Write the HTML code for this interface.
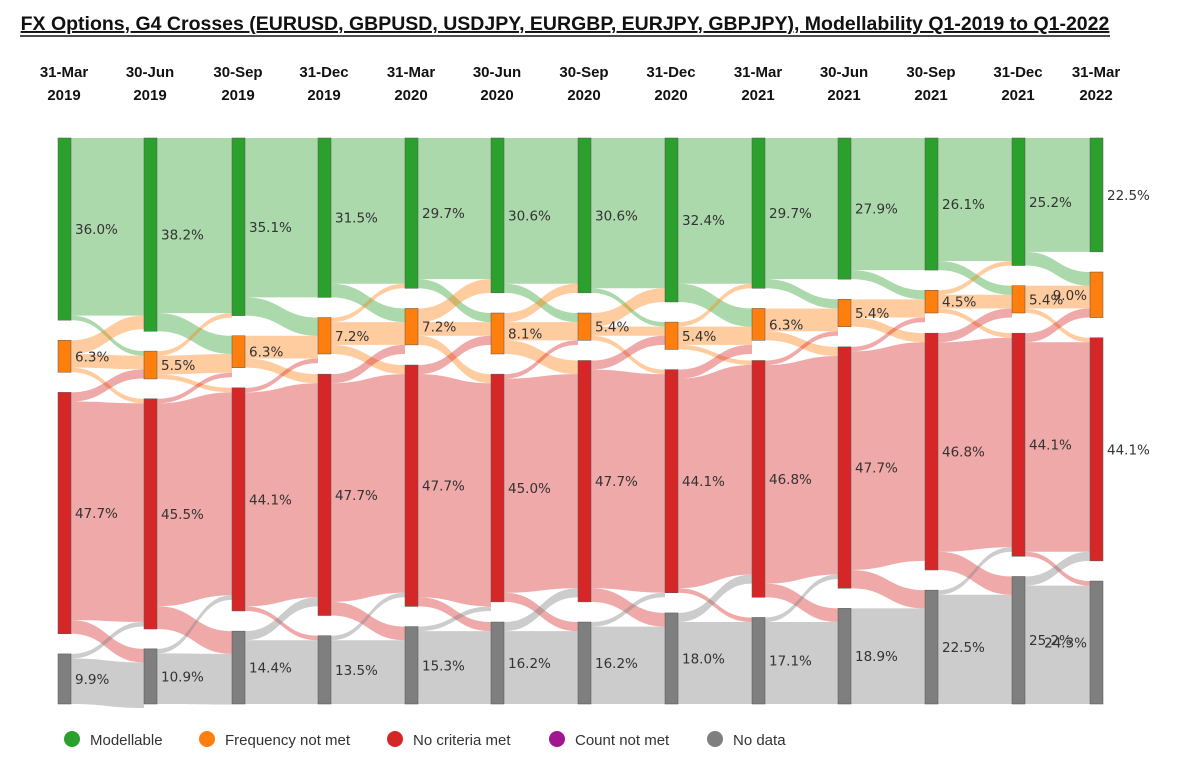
<!DOCTYPE html>
<html><head><meta charset="utf-8"><style>
body{margin:0;background:#fff;font-family:"Liberation Sans",sans-serif}
#wrap{position:relative;width:1189px;height:771px;overflow:hidden}
</style></head><body>
<div id="wrap">
<svg id="svg" width="1189" height="771">
<text x="565" y="30" text-anchor="middle" font-size="19.5" font-weight="bold" text-decoration="underline" fill="#111">FX Options, G4 Crosses (EURUSD, GBPUSD, USDJPY, EURGBP, EURJPY, GBPJPY), Modellability Q1-2019 to Q1-2022</text>
<line x1="20" y1="36" x2="1110" y2="36" stroke="#111" stroke-width="1.5"/>
<g id="links"></g><g id="nodes"></g><g id="labels"></g><g id="heads"></g>
<g id="legend"></g>
</svg></div>
<script>
const dates=[["31-Mar","2019"],["30-Jun","2019"],["30-Sep","2019"],["31-Dec","2019"],["31-Mar","2020"],["30-Jun","2020"],["30-Sep","2020"],["31-Dec","2020"],["31-Mar","2021"],["30-Jun","2021"],["30-Sep","2021"],["31-Dec","2021"],["31-Mar","2022"]];
const modellable=[36.0,38.2,35.1,31.5,29.7,30.6,30.6,32.4,29.7,27.9,26.1,25.2,22.5];
const freqNotMet=[6.3,5.5,6.3,7.2,7.2,8.1,5.4,5.4,6.3,5.4,4.5,5.4,9.0];
const noCriteria=[47.7,45.5,44.1,47.7,47.7,45.0,47.7,44.1,46.8,47.7,46.8,44.1,44.1];
const noData=[9.9,10.9,14.4,13.5,15.3,16.2,16.2,18.0,17.1,18.9,22.5,25.2,24.3];
// off-diagonal transitions per period: [from,to,value] (0=M,1=F,2=N,3=D)
const transitions=[
 [[0,1,0.9],[1,0,2.7],[1,2,0.9],[2,1,1.8],[2,3,2.7],[3,2,0.9]],
 [[0,1,3.6],[1,0,0.9],[1,2,0.9],[2,1,0.9],[2,3,4.5],[3,2,0.9]],
 [[0,1,3.6],[1,2,1.8],[2,1,0.9],[2,3,0.9],[3,2,1.8]],
 [[0,1,2.7],[1,0,0.9],[1,2,1.8],[2,1,1.8],[2,3,2.7],[3,2,0.9]],
 [[0,1,1.8],[1,0,2.7],[1,2,1.8],[2,1,1.8],[2,3,1.8],[3,2,0.9]],
 [[0,1,1.8],[1,0,1.8],[1,2,2.7],[2,1,0.9],[2,3,1.8],[3,2,1.8]],
 [[0,1,0.9],[1,0,2.7],[1,2,0.9],[2,1,1.8],[2,3,2.7],[3,2,0.9]],
 [[0,1,3.6],[1,0,0.9],[1,2,0.9],[2,1,1.8],[2,3,0.9],[3,2,1.8]],
 [[0,1,1.8],[1,2,1.8],[2,1,0.9],[2,3,2.7],[3,2,0.9]],
 [[0,1,1.8],[1,2,1.8],[2,1,0.9],[2,3,3.6]],
 [[0,1,1.8],[1,0,0.9],[1,2,0.9],[2,1,1.8],[2,3,3.6],[3,2,0.9]],
 [[0,1,2.7],[1,2,0.9],[2,1,1.8],[2,3,0.9],[3,2,1.8]]
];
const names=["Modellable","Frequency not met","No criteria met","Count not met","No data"];
const nodeCol=["#2ca02c","#ff7f0e","#d62728","#7f7f7f"];
const linkCol=["rgba(44,160,44,0.4)","rgba(255,127,14,0.4)","rgba(214,39,40,0.4)","rgba(127,127,127,0.4)"];
const legCol=["#2ca02c","#ff7f0e","#d62728","#a0178f","#7f7f7f"];
const NS="http://www.w3.org/2000/svg";
function mk(t,a,p){const e=document.createElementNS(NS,t);for(const k in a)e.setAttribute(k,a[k]);p.appendChild(e);return e;}
const xs=[58,144,232,318,405,491,578,665,752,838,925,1012,1090],NW=13,TOP=138,BOT=704;
const series=[modellable,freqNotMet,noCriteria,noData];
const pos=[];
for(let c=0;c<13;c++){
 const vals=series.map(s=>s[c]);const tot=vals.reduce((a,b)=>a+b,0);
 const sc=5.06;const gap=(BOT-TOP-tot*sc)/3;
 let y=TOP;const col=[];
 vals.forEach(v=>{col.push([y,y+v*sc]);y+=v*sc+gap;});
 pos.push(col);
}
const links=document.getElementById('links');
for(let t=0;t<12;t++){
 const fl=[];
 for(let i=0;i<4;i++){
  let off=transitions[t].filter(f=>f[0]===i).reduce((a,f)=>a+f[2],0);
  fl.push([i,i,series[i][t]-off]);
 }
 transitions[t].forEach(f=>fl.push(f));
 const so=[0,0,0,0],to=[0,0,0,0];
 const bySrc=fl.slice().sort((a,b)=>a[0]-b[0]||a[1]-b[1]);
 const srcY=new Map(),tgtY=new Map();
 bySrc.forEach(f=>{srcY.set(f,pos[t][f[0]][0]+so[f[0]]);so[f[0]]+=f[2]*5.06;});
 const byTgt=fl.slice().sort((a,b)=>a[1]-b[1]||a[0]-b[0]);
 byTgt.forEach(f=>{tgtY.set(f,pos[t+1][f[1]][0]+to[f[1]]);to[f[1]]+=f[2]*5.06;});
 fl.forEach(f=>{
  if(f[2]<=0)return;const w=f[2]*5.06;
  const x0=xs[t]+NW,x1=xs[t+1],xm=(x0+x1)/2,y0=srcY.get(f),y1=tgtY.get(f);
  const p=mk('path',{d:`M${x0},${y0}C${xm},${y0} ${xm},${y1} ${x1},${y1}L${x1},${y1+w}C${xm},${y1+w} ${xm},${y0+w} ${x0},${y0+w}Z`,fill:linkCol[f[0]]},links);
  
  
 });
}
const nodes=document.getElementById('nodes'),labels=document.getElementById('labels'),heads=document.getElementById('heads');
for(let c=0;c<13;c++){
 for(let i=0;i<4;i++){
  const [y0,y1]=pos[c][i];
  const r=mk('rect',{x:xs[c],y:y0,width:NW,height:y1-y0,fill:nodeCol[i],stroke:"#555","stroke-width":0.5},nodes);
  
  
  const left=(c===12&&(i===1||i===3));
  const tx=mk('text',{x:left?xs[c]-3:xs[c]+NW+4,y:(y0+y1)/2+5,"font-size":13.5,"font-family":"DejaVu Sans, sans-serif",fill:"#333","text-anchor":left?"end":"start"},labels);
  tx.textContent=series[i][c].toFixed(1)+"%";
  
  
 }
 const h=mk('text',{x:xs[c]+6,y:77,"font-size":15,"font-weight":"bold","text-anchor":"middle",fill:"#111"},heads);
 
 
 const s1=mk('tspan',{x:xs[c]+6,dy:0},h);s1.textContent=dates[c][0];
 const s2=mk('tspan',{x:xs[c]+6,dy:23},h);s2.textContent=dates[c][1];
}
const lg=document.getElementById('legend');const lx=[72,207,395,557,715];
names.forEach((n,i)=>{
 const g=mk('g',{},lg);
 
 
 mk('circle',{cx:lx[i],cy:739,r:8,fill:legCol[i]},g);
 const t=mk('text',{x:lx[i]+18,y:745,"font-size":15,fill:"#333"},g);t.textContent=n;
});
</script></body></html>
